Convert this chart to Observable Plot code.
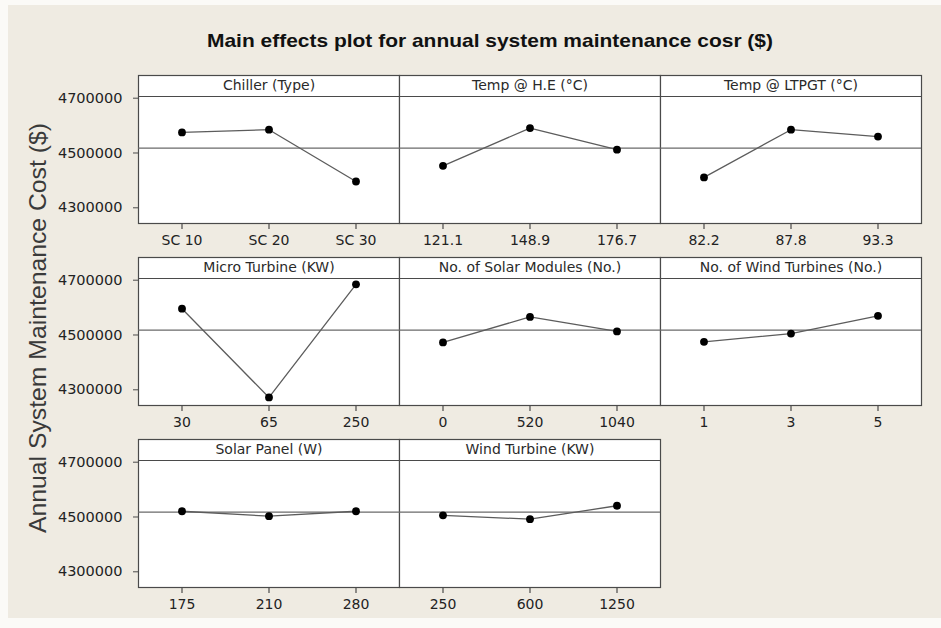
<!DOCTYPE html>
<html><head><meta charset="utf-8">
<script src="https://cdn.jsdelivr.net/npm/d3@7"></script>
<script src="https://cdn.jsdelivr.net/npm/@observablehq/plot@0.6"></script>
<style>
body{margin:0;background:#fbfaf7;}
#wrap{position:relative;width:941px;height:628px;overflow:hidden;}
#bg{position:absolute;left:8px;top:5px;right:0;height:613px;background:#efebe2;}
#chart{position:absolute;left:0;top:0;}
</style></head><body>
<div id="wrap"><div id="bg"></div><div id="chart"></div></div>
<script>
const titleText = "Main effects plot for annual system maintenance cosr ($)";
const yLabelText = "Annual System Maintenance Cost ($)";
const factors = [
  "Chiller (Type)", "Temp @ H.E (°C)", "Temp @ LTPGT (°C)",
  "Micro Turbine (KW)", "No. of Solar Modules (No.)", "No. of Wind Turbines (No.)",
  "Solar Panel (W)", "Wind Turbine (KW)"
];
const levels = [
  ["SC 10", "SC 20", "SC 30"],
  ["121.1", "148.9", "176.7"],
  ["82.2", "87.8", "93.3"],
  ["30", "65", "250"],
  ["0", "520", "1040"],
  ["1", "3", "5"],
  ["175", "210", "280"],
  ["250", "600", "1250"]
];
const means = [
  [4575000, 4585000, 4396000],
  [4453000, 4591000, 4512000],
  [4411000, 4585000, 4560000],
  [4596000, 4272000, 4685000],
  [4473000, 4566000, 4513000],
  [4475000, 4505000, 4570000],
  [4521000, 4503000, 4521000],
  [4506000, 4492000, 4541000]
];
const grandMean = 4518000;
const yTicks = [4300000, 4500000, 4700000];

// build table
const rows = [];
factors.forEach((f, k) => levels[k].forEach((lv, i) =>
  rows.push({factor: f, col: k % 3, row: Math.floor(k / 3), i, level: lv, value: means[k][i]})));
const strips = factors.map((f, k) => ({factor: f, col: k % 3, row: Math.floor(k / 3)}));

const yBottom = 4242700, yPlotTop = 4706200, yTop = 4782800;
const facetH = 148;
const perPx = (yTop - yBottom) / facetH;
const frameColor = "#4a4a4a";

const chart = Plot.plot({
  width: 941, height: 628,
  marginTop: 75, marginBottom: 41, marginLeft: 137, marginRight: 19,
  style: {background: "transparent", fontFamily: "'DejaVu Sans', sans-serif", fontSize: "14px", color: "#222", overflow: "visible"},
  x: {domain: [-0.5, 2.5], axis: null},
  y: {domain: [yBottom, yTop]},
  fx: {axis: null, padding: 0},
  fy: {axis: null, paddingInner: 34 / 182, paddingOuter: 0},
  marks: [
    Plot.frame({fill: "white", stroke: frameColor, strokeWidth: 1.2}),
    Plot.ruleY([grandMean], {stroke: "#6a6a6a", strokeWidth: 1.2}),
    Plot.ruleY([yPlotTop], {stroke: frameColor, strokeWidth: 1.2}),
    Plot.line(rows, {x: "i", y: "value", fx: "col", fy: "row", z: "factor", stroke: "#5c5c5c", strokeWidth: 1.3}),
    Plot.dot(rows, {x: "i", y: "value", fx: "col", fy: "row", r: 3.9, fill: "#000", stroke: null}),
    Plot.text(strips, {fx: "col", fy: "row", text: "factor", frameAnchor: "top", lineAnchor: "middle", dy: 10.5, fill: "#2a2a2a", fontSize: 14}),
    Plot.ruleX(rows, {x: "i", fx: "col", fy: "row", y1: yBottom, y2: yBottom - 6 * perPx, stroke: frameColor, strokeWidth: 1.2}),
    Plot.text(rows, {x: "i", fx: "col", fy: "row", text: "level", frameAnchor: "bottom", lineAnchor: "middle", dy: 17, fill: "#222", fontSize: 14}),
    Plot.axisY(yTicks, {tickFormat: "d", tickSize: 5, tickPadding: 11, label: null, facetAnchor: "left", stroke: frameColor, fill: "#222", fontSize: 14.5, fontFamily: "'DejaVu Sans', sans-serif"})
  ]
});

const svg = d3.select(chart);
svg.append("text")
  .attr("x", 490).attr("y", 40)
  .attr("text-anchor", "middle").attr("dominant-baseline", "central")
  .attr("font-family", "'Liberation Sans', Arial, sans-serif")
  .attr("font-weight", "bold").attr("font-size", 19)
  .attr("fill", "#111")
  .attr("textLength", 566).attr("lengthAdjust", "spacingAndGlyphs")
  .text(titleText);
svg.append("text")
  .attr("transform", "translate(37,328) rotate(-90)")
  .attr("text-anchor", "middle").attr("dominant-baseline", "central")
  .attr("font-family", "'Liberation Sans', Arial, sans-serif")
  .attr("font-size", 24)
  .attr("fill", "#3a3a3a")
  .attr("textLength", 410).attr("lengthAdjust", "spacingAndGlyphs")
  .text(yLabelText);

document.getElementById("chart").appendChild(chart);
</script>
</body></html>
